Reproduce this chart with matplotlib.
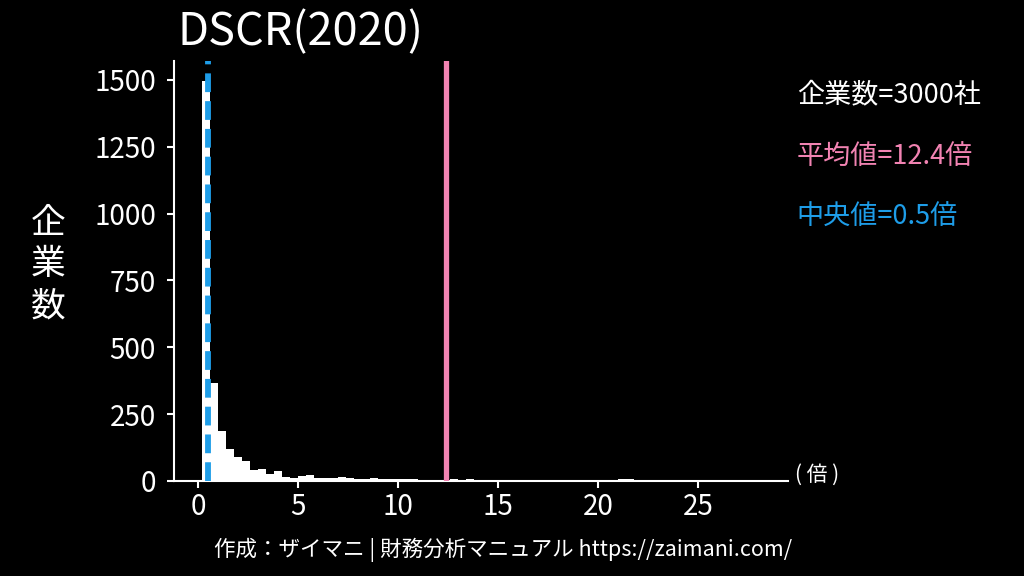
import matplotlib
matplotlib.use("Agg")
import matplotlib.pyplot as plt
import numpy as np

plt.rcParams['font.family'] = ['Noto Sans CJK JP', 'DejaVu Sans']
plt.rcParams['lines.scale_dashes'] = False

# histogram of DSCR (bin width 0.4, first edge ~0.185)
bin_start = 0.185
bin_width = 0.4
counts = [1495, 368, 187, 119, 90, 76, 40, 45, 25, 37,
          15, 12, 19, 22, 12, 10, 10, 15, 10, 8,
          9, 12, 8, 7, 8, 6, 6, 5, 5, 4,
          5, 6, 4, 7, 3, 3, 3, 5, 5, 4,
          2, 3, 5, 2, 2, 2, 2, 3, 5, 4,
          2, 3, 7, 7, 2, 2, 1, 2, 2, 2,
          2, 3, 5, 2, 1, 2, 3, 5, 5, 4]
n_firms = 3000
mean_val = 12.4
median_val = 0.5
x_ticks = [0, 5, 10, 15, 20, 25]
y_ticks = [0, 250, 500, 750, 1000, 1250, 1500]

pink = "#f283b2"
blue = "#1e9de8"

edges = bin_start + bin_width * np.arange(len(counts))

fig = plt.figure(figsize=(10.24, 5.76), dpi=100, facecolor="black")
ax = fig.add_axes([0.170, 0.165, 0.600, 0.729])
ax.set_facecolor("black")

ax.bar(edges, counts, width=bin_width, align="edge", color="white", linewidth=0, zorder=2)
ax.axvline(mean_val, color=pink, linewidth=3.8, zorder=3)
ax.axvline(median_val, color=blue, linewidth=4.2, dashes=(13.5, 6.5), zorder=3)

ax.set_xlim(-1.2, 29.5)
ax.set_ylim(0, 1570)
ax.set_xticks(x_ticks)
ax.set_yticks(y_ticks)

for s in ["top", "right"]:
    ax.spines[s].set_visible(False)
for s in ["left", "bottom"]:
    ax.spines[s].set_color("white")
    ax.spines[s].set_linewidth(1.5)
ax.tick_params(colors="white", labelsize=20, width=1.5, length=5)
ax.tick_params(axis="y", pad=8)
ax.tick_params(axis="x", pad=3)

fig.text(177 / 1024, 0.922, "DSCR(2020)", color="white", fontsize=32.5, ha="left", va="baseline")
fig.text(0.047, 0.54, "企\n業\n数", color="white", fontsize=25, ha="center", va="center",
         linespacing=1.25)

fig.text(0.778, 0.835, f"企業数={n_firms}社", color="white", fontsize=19.5, ha="left", va="center")
fig.text(0.778, 0.727, f"平均値={mean_val}倍", color=pink, fontsize=19.5, ha="left", va="center")
fig.text(0.778, 0.622, f"中央値={median_val}倍", color=blue, fontsize=19.5, ha="left", va="center")

fig.text(0.776, 0.176, "( 倍 )", color="white", fontsize=15, ha="left", va="center")
fig.text(0.491, 0.045, "作成：ザイマニ | 財務分析マニュアル https://zaimani.com/", color="white",
         fontsize=15.5, ha="center", va="center")

fig.savefig("out.png", dpi=100, facecolor="black")
plt.close(fig)
